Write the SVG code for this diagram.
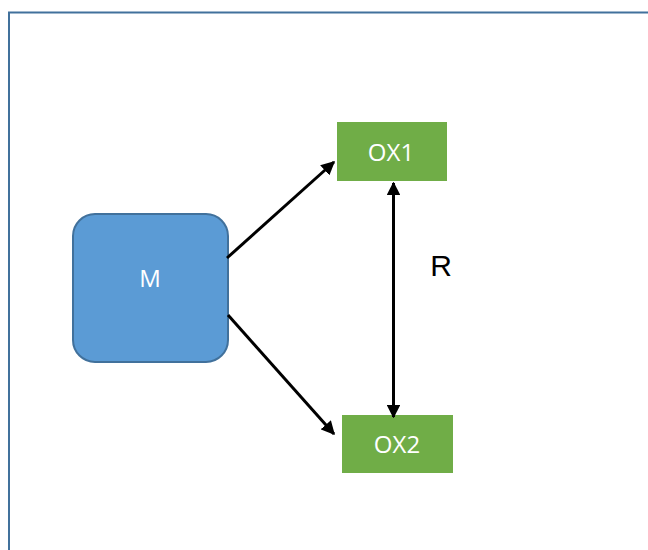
<svg xmlns="http://www.w3.org/2000/svg" width="648" height="550" viewBox="0 0 648 550">
<style>
.lbl{font-family:"Open Sans","Noto Sans",sans-serif;fill:#fff;text-anchor:middle;dominant-baseline:central}
.ox{fill:#70ad47}
.con{stroke:#000;stroke-width:3;fill:none}
</style>
<defs>
<marker id="ah" viewBox="0 0 10 10" refX="9" refY="5" markerWidth="4.6" markerHeight="4.6" orient="auto-start-reverse" markerUnits="strokeWidth">
<path d="M0,0 L10,5 L0,10 z" fill="#000"/>
</marker>
</defs>
<rect width="648" height="550" fill="#fff"/>
<path d="M9,550 V12.5 H648" fill="none" stroke="#41719c" stroke-width="2"/>
<g id="M">
<rect x="73" y="214" width="155" height="148" rx="22" fill="#5b9bd5" stroke="#41719c" stroke-width="2"/>
<text class="lbl" x="150" y="277" font-size="24">M</text>
</g>
<g id="OX1">
<rect class="ox" x="337" y="122" width="110" height="59"/>
<text class="lbl" x="391" y="151" font-size="24">OX1</text>
</g>
<g id="OX2">
<rect class="ox" x="342" y="415" width="111" height="58"/>
<text class="lbl" x="397" y="443" font-size="24">OX2</text>
</g>
<g id="connectors">
<line class="con" x1="227" y1="258" x2="334" y2="162" marker-end="url(#ah)"/>
<line class="con" x1="228" y1="315" x2="334" y2="434" marker-end="url(#ah)"/>
<line class="con" x1="393.5" y1="183" x2="393.5" y2="417" marker-start="url(#ah)" marker-end="url(#ah)"/>
</g>
<text x="441" y="265" font-family="Liberation Sans,Arial,sans-serif" font-size="30" fill="#000" text-anchor="middle" dominant-baseline="central">R</text>
</svg>
